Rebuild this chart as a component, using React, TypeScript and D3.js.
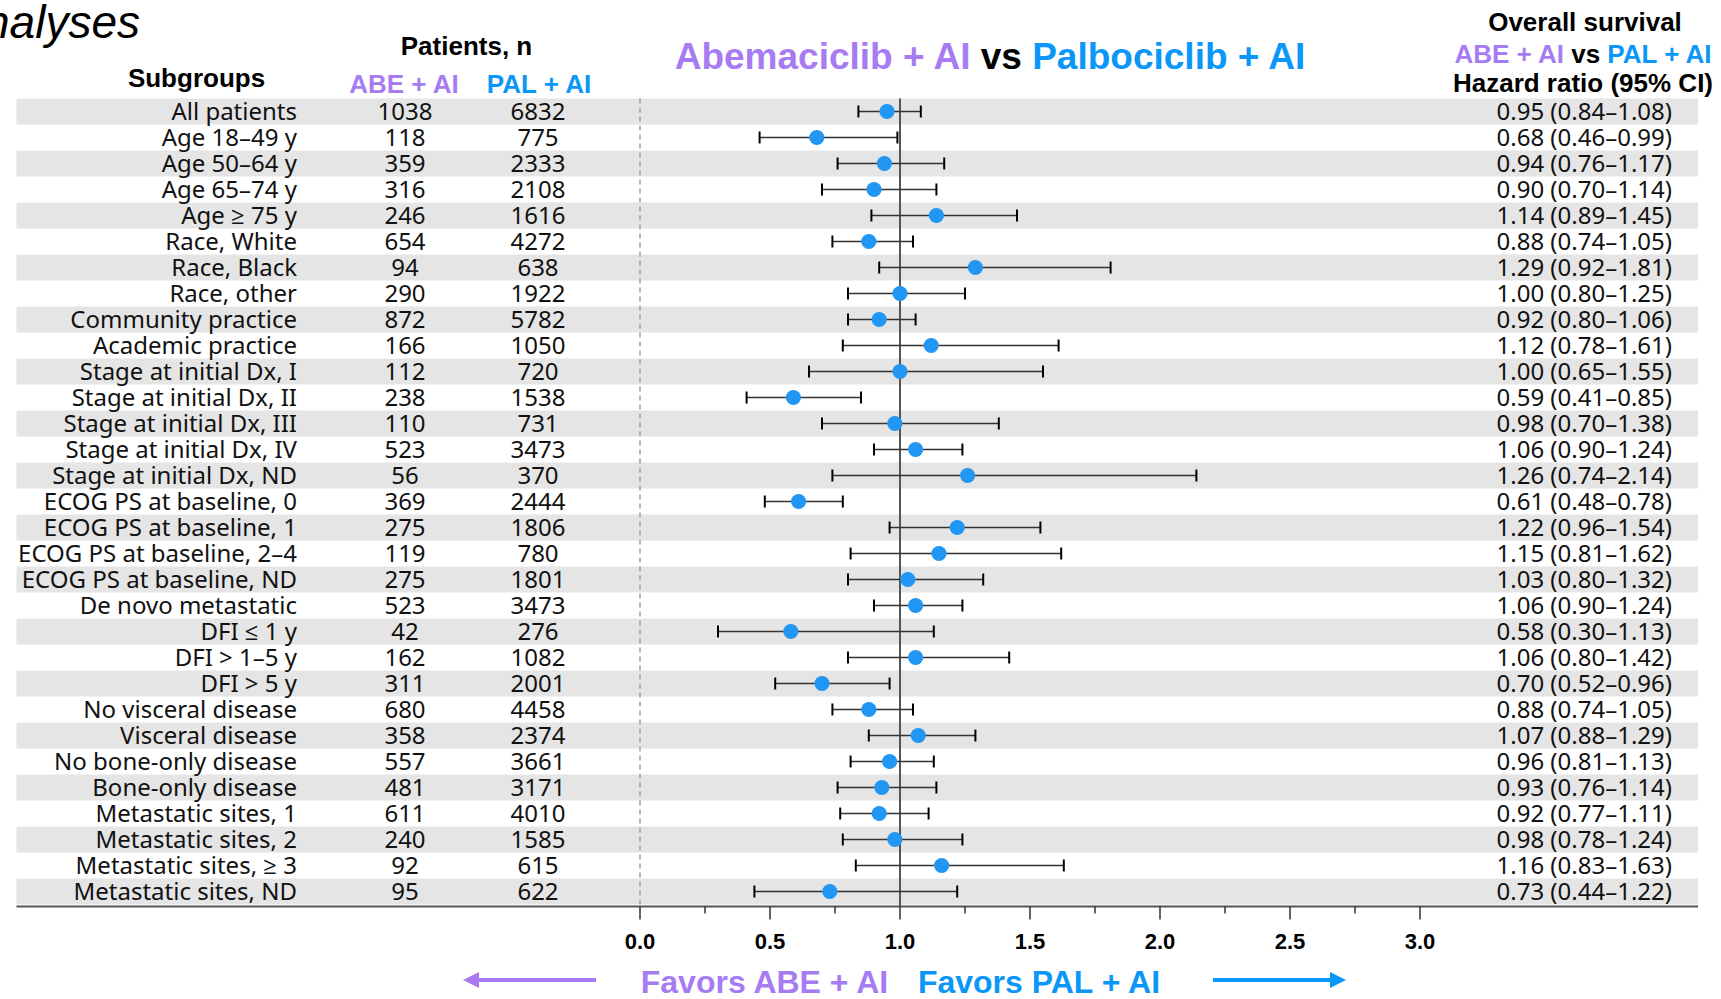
import React from "react";
import * as d3 from "d3";

const subgroups = [
  "All patients", "Age 18–49 y", "Age 50–64 y", "Age 65–74 y", "Age ≥ 75 y",
  "Race, White", "Race, Black", "Race, other", "Community practice", "Academic practice",
  "Stage at initial Dx, I", "Stage at initial Dx, II", "Stage at initial Dx, III",
  "Stage at initial Dx, IV", "Stage at initial Dx, ND", "ECOG PS at baseline, 0",
  "ECOG PS at baseline, 1", "ECOG PS at baseline, 2–4", "ECOG PS at baseline, ND",
  "De novo metastatic", "DFI ≤ 1 y", "DFI > 1–5 y", "DFI > 5 y", "No visceral disease",
  "Visceral disease", "No bone-only disease", "Bone-only disease", "Metastatic sites, 1",
  "Metastatic sites, 2", "Metastatic sites, ≥ 3", "Metastatic sites, ND",
];
const abeN = [1038, 118, 359, 316, 246, 654, 94, 290, 872, 166, 112, 238, 110, 523, 56, 369, 275, 119, 275, 523, 42, 162, 311, 680, 358, 557, 481, 611, 240, 92, 95];
const palN = [6832, 775, 2333, 2108, 1616, 4272, 638, 1922, 5782, 1050, 720, 1538, 731, 3473, 370, 2444, 1806, 780, 1801, 3473, 276, 1082, 2001, 4458, 2374, 3661, 3171, 4010, 1585, 615, 622];
const hr = [0.95, 0.68, 0.94, 0.90, 1.14, 0.88, 1.29, 1.00, 0.92, 1.12, 1.00, 0.59, 0.98, 1.06, 1.26, 0.61, 1.22, 1.15, 1.03, 1.06, 0.58, 1.06, 0.70, 0.88, 1.07, 0.96, 0.93, 0.92, 0.98, 1.16, 0.73];
const lower = [0.84, 0.46, 0.76, 0.70, 0.89, 0.74, 0.92, 0.80, 0.80, 0.78, 0.65, 0.41, 0.70, 0.90, 0.74, 0.48, 0.96, 0.81, 0.80, 0.90, 0.30, 0.80, 0.52, 0.74, 0.88, 0.81, 0.76, 0.77, 0.78, 0.83, 0.44];
const upper = [1.08, 0.99, 1.17, 1.14, 1.45, 1.05, 1.81, 1.25, 1.06, 1.61, 1.55, 0.85, 1.38, 1.24, 2.14, 0.78, 1.54, 1.62, 1.32, 1.24, 1.13, 1.42, 0.96, 1.05, 1.29, 1.13, 1.14, 1.11, 1.24, 1.63, 1.22];
const xTicks = [0, 0.5, 1, 1.5, 2, 2.5, 3];
const xMinorTicks = [0.25, 0.75, 1.25, 1.75, 2.25, 2.75];

const W = 1721;
const H = 999;
const PURPLE = "#a77cf3";
const BLUE = "#0b97f7";
const DOT = "#2196f3";
const BODY = "'Noto Sans', 'Open Sans', sans-serif";
const HEAD = "'Liberation Sans', Arial, sans-serif";

export default function App() {
  const x = d3.scaleLinear().domain([0, 3]).range([640, 1420]);
  const y = d3
    .scaleBand<number>()
    .domain(d3.range(subgroups.length))
    .range([98.5, 904.5])
    .padding(0);
  const bw = y.bandwidth();
  const fmt = d3.format(".2f");
  const hrLabel = (i: number) => `${fmt(hr[i])} (${fmt(lower[i])}–${fmt(upper[i])})`;
  const axisY = 906.5;
  const rows = d3.range(subgroups.length);

  return (
    <svg
      width={W}
      height={H}
      style={{ position: "absolute", left: 0, top: 0, background: "#fff" }}
    >
      {/* partial title */}
      <text x={140} y={38} textAnchor="end" fontFamily={HEAD} fontStyle="italic" fontSize={46}>
        Subgroup analyses
      </text>

      {/* headers */}
      <g fontFamily={HEAD} fontWeight="bold" fontSize={26} textAnchor="middle">
        <text x={196.5} y={87}>Subgroups</text>
        <text x={466.5} y={55}>Patients, n</text>
        <text x={404} y={92.5} fill={PURPLE}>ABE + AI</text>
        <text x={539} y={92.5} fill={BLUE}>PAL + AI</text>
        <text x={1585} y={31}>Overall survival</text>
        <text x={1583} y={63}>
          <tspan fill={PURPLE}>ABE + AI</tspan>
          <tspan fill="#000"> vs </tspan>
          <tspan fill={BLUE}>PAL + AI</tspan>
        </text>
        <text x={1583} y={92}>Hazard ratio (95% CI)</text>
        <text x={990} y={69} fontSize={37}>
          <tspan fill={PURPLE}>Abemaciclib + AI</tspan>
          <tspan fill="#000"> vs </tspan>
          <tspan fill={BLUE}>Palbociclib + AI</tspan>
        </text>
      </g>

      {/* row bands */}
      {rows.map((i) =>
        i % 2 === 0 ? (
          <rect key={"b" + i} x={16.5} y={y(i)} width={1698 - 16.5} height={bw} fill="#e5e5e5" />
        ) : null
      )}

      {/* reference lines */}
      <line x1={x(0)} x2={x(0)} y1={y(0)} y2={axisY} stroke="#a0a0a0" strokeWidth={1.5} strokeDasharray="5,4" />
      <line x1={x(1)} x2={x(1)} y1={y(0)} y2={axisY} stroke="#555" strokeWidth={2} />

      {/* row texts */}
      <g fontFamily={BODY} fontSize={24} fill="#111">
        {rows.map((i) => {
          const cy = (y(i) as number) + bw / 2 + 8.5;
          return (
            <g key={"t" + i}>
              <text x={297} y={cy} textAnchor="end">{subgroups[i]}</text>
              <text x={405} y={cy} textAnchor="middle">{abeN[i]}</text>
              <text x={538} y={cy} textAnchor="middle">{palN[i]}</text>
              <text x={1672} y={cy} textAnchor="end">{hrLabel(i)}</text>
            </g>
          );
        })}
      </g>

      {/* CIs and points */}
      {rows.map((i) => {
        const cy = (y(i) as number) + bw / 2;
        return (
          <g key={"ci" + i}>
            <line x1={x(lower[i])} x2={x(upper[i])} y1={cy} y2={cy} stroke="#333" strokeWidth={1.6} />
            <line x1={x(lower[i])} x2={x(lower[i])} y1={cy - 6} y2={cy + 6} stroke="#000" strokeWidth={2} />
            <line x1={x(upper[i])} x2={x(upper[i])} y1={cy - 6} y2={cy + 6} stroke="#000" strokeWidth={2} />
            <circle cx={x(hr[i])} cy={cy} r={7.6} fill={DOT} />
          </g>
        );
      })}

      {/* axis */}
      <line x1={16.5} x2={1698} y1={axisY} y2={axisY} stroke="#555" strokeWidth={2} />
      {xTicks.map((t) => (
        <line key={"mt" + t} x1={x(t)} x2={x(t)} y1={axisY} y2={axisY + 13} stroke="#333" strokeWidth={1.5} />
      ))}
      {xMinorTicks.map((t) => (
        <line key={"nt" + t} x1={x(t)} x2={x(t)} y1={axisY} y2={axisY + 7} stroke="#333" strokeWidth={1.5} />
      ))}
      <g fontFamily={HEAD} fontWeight="bold" fontSize={22} textAnchor="middle">
        {xTicks.map((t) => (
          <text key={"tl" + t} x={x(t)} y={949}>{d3.format(".1f")(t)}</text>
        ))}
      </g>

      {/* favors */}
      <g fontFamily={HEAD} fontWeight="bold" fontSize={32} textAnchor="middle">
        <text x={764.5} y={993} fill={PURPLE}>Favors ABE + AI</text>
        <text x={1039} y={993} fill={BLUE}>Favors PAL + AI</text>
      </g>
      <line x1={596} x2={476} y1={980} y2={980} stroke={PURPLE} strokeWidth={4} />
      <polygon points="463,980 479,972 479,988" fill={PURPLE} />
      <line x1={1213} x2={1333} y1={980} y2={980} stroke={BLUE} strokeWidth={4} />
      <polygon points="1346,980 1330,972 1330,988" fill={BLUE} />
    </svg>
  );
}
